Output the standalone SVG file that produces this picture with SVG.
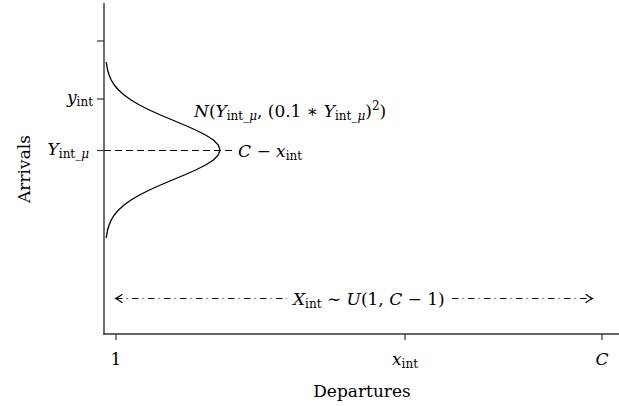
<svg xmlns="http://www.w3.org/2000/svg" width="619" height="406" viewBox="0 0 619 406">
<style>
.t{font-family:"DejaVu Serif","Liberation Serif",serif;font-size:17px;fill:#000}
.i{font-style:italic}
.s{font-size:12px}
.ax{stroke:#333;stroke-width:1.4;fill:none}
.tk{stroke:#333;stroke-width:1.2;fill:none}
.cv{stroke:#000;stroke-width:1.3;fill:none}
.dash{stroke:#000;stroke-width:1.1;stroke-dasharray:7 4;fill:none}
.dd{stroke:#000;stroke-width:1.1;stroke-dasharray:6.5 4 1 4.5;fill:none}
.ah{stroke:#000;stroke-width:1.1;fill:none;stroke-linecap:round}
</style>
<rect width="619" height="406" fill="#fff"/>
<g id="axes">
<line class="ax" x1="104" y1="3" x2="104" y2="334.7"/>
<line class="ax" x1="103.3" y1="334" x2="619" y2="334"/>
<line class="tk" x1="97" y1="41" x2="104" y2="41"/>
<line class="tk" x1="97" y1="99" x2="104" y2="99"/>
<line class="tk" x1="97" y1="150.5" x2="104" y2="150.5"/>
<line class="tk" x1="116" y1="334" x2="116" y2="340"/>
<line class="tk" x1="405" y1="334" x2="405" y2="340"/>
<line class="tk" x1="602" y1="334" x2="602" y2="340"/>
</g>
<g id="axis-labels">
<text class="t" x="362" y="397" text-anchor="middle">Departures</text>
<text class="t" transform="translate(30,169) rotate(-90)" text-anchor="middle">Arrivals</text>
<text class="t" x="116" y="365" text-anchor="middle">1</text>
<text class="t" x="405" y="365" text-anchor="middle"><tspan class="i">x</tspan><tspan class="s" dy="3">int</tspan></text>
<text class="t i" x="602" y="365" text-anchor="middle">C</text>
<text class="t" x="93" y="103" text-anchor="end"><tspan class="i">y</tspan><tspan class="s" dy="3">int</tspan></text>
<text class="t" x="89" y="155" text-anchor="end"><tspan class="i">Y</tspan><tspan class="s" dy="3">int_<tspan class="i">μ</tspan></tspan></text>
</g>
<g id="distribution">
<polyline class="cv" points="106.2,62 107.6,70 109.1,75 111.2,80 114.3,85 118.5,90 124.1,95 131,100 139.5,105 149.4,110 160.5,115 172.4,120 184.3,125 195.7,130 205.6,135 213.4,140 218.3,145 220,150 218.3,155 213.4,160 205.6,165 195.7,170 184.3,175 172.4,180 160.5,185 149.4,190 139.5,195 131,200 124.1,205 118.5,210 114.3,215 111.2,220 109.1,225 107.6,230 106.2,238"/>
<text class="t" x="194" y="117"><tspan class="i">N</tspan>(<tspan class="i">Y</tspan><tspan class="s" dy="3">int_<tspan class="i">μ</tspan></tspan><tspan dy="-3">, (0.1 ∗ </tspan><tspan class="i">Y</tspan><tspan class="s" dy="3">int_<tspan class="i">μ</tspan></tspan><tspan dy="-3">)</tspan><tspan class="s" dy="-7">2</tspan><tspan dy="7">)</tspan></text>
</g>
<g id="connectors">
<line class="dash" x1="104" y1="150.5" x2="234" y2="150.5"/>
<line class="dd" x1="116" y1="298.5" x2="287" y2="298.5"/>
<line class="dd" x1="452" y1="298.5" x2="592" y2="298.5"/>
<path class="ah" d="M122,294.5 Q118,297.5 115.5,298.5 Q118,299.5 122,302.5"/>
<path class="ah" d="M586,294.5 Q590,297.5 592.5,298.5 Q590,299.5 586,302.5"/>
</g>
<g id="labels">
<text class="t" x="238" y="157"><tspan class="i">C</tspan> − <tspan class="i">x</tspan><tspan class="s" dy="3">int</tspan></text>
<text class="t" x="293" y="305"><tspan class="i">X</tspan><tspan class="s" dy="3">int</tspan><tspan dy="-3"> ∼ </tspan><tspan class="i">U</tspan>(1, <tspan class="i">C</tspan> − 1)</text>
</g>
</svg>
